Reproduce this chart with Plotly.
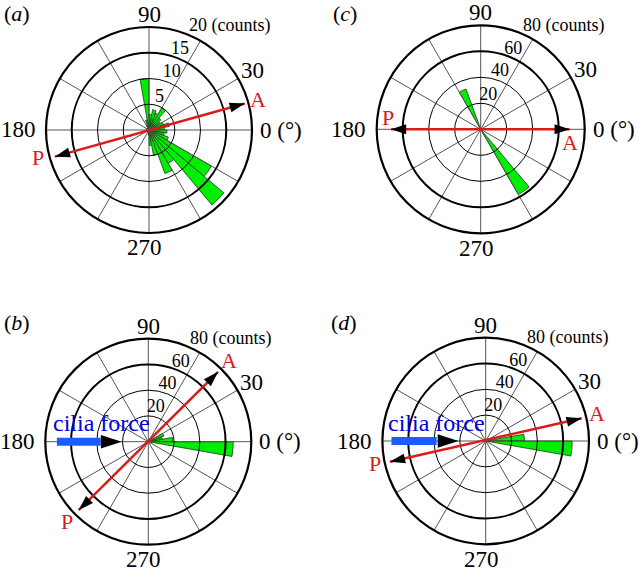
import math
import plotly.graph_objects as go

# ---------------- data ----------------
bin_centers = [5, 15, 25, 35, 45, 55, 65, 75, 85, 95, 105, 115, 125, 135, 145, 155, 165, 175,
               185, 195, 205, 215, 225, 235, 245, 255, 265, 275, 285, 295, 305, 315, 325, 335, 345, 355]
bin_width = 10

counts_a = [3, 4, 3, 2.5, 3, 5, 3.5, 4, 3, 10, 2, 1, 0.5, 0.5, 0.5, 0.5, 0.5, 0.5,
            0.5, 0.5, 0.5, 0.5, 0.5, 0.5, 0.5, 0.5, 1, 3, 5, 9, 7.5, 19, 14, 4, 3, 3.5]
counts_b = [19, 11, 13, 0, 0, 0, 0, 0, 0, 0, 0, 0, 0, 0, 0, 0, 0, 0,
            0, 0, 0, 0, 0, 0, 0, 0, 0, 0, 0, 0, 0, 0, 0, 0, 0, 66]
counts_c = [0, 0, 0, 0, 0, 0, 0, 0, 0, 0, 0, 33, 0, 0, 0, 0, 0, 0,
            0, 0, 0, 0, 0, 0, 0, 0, 0, 0, 0, 0, 58, 0, 0, 0, 0, 0]
counts_d = [30, 0, 0, 0, 0, 0, 0, 0, 0, 0, 0, 0, 0, 0, 0, 0, 0, 0,
            0, 0, 0, 0, 0, 0, 0, 0, 0, 0, 0, 0, 0, 0, 0, 0, 0, 67]

ring_ticks_a = [5, 10, 15, 20]
ring_ticks_bcd = [20, 40, 60, 80]
ring_labels_a = ["5", "10", "15", "20 (counts)"]
ring_labels_bcd = ["20", "40", "60", "80 (counts)"]

spoke_angles = [0, 30, 60, 90, 120, 150, 180, 210, 240, 270, 300, 330]
angle_label_text = ["0 (°)", "30", "90", "180", "270"]
# label placement: (radius as fraction of the outer ring, angle in degrees)
angle_label_pos = [(1.28, 0), (1.16, 29.8), (1.12, 90), (1.27, 180), (1.145, 267.8)]

# A-P axis (theta of A tip, r of A tip, theta of P tip, r of P tip)
ap_a = [15.5, 19.3, 195.8, 19.0]
ap_b = [45.0, 76.7, 224.5, 75.8]
ap_c = [0.0, 68.5, 180.0, 69.0]
ap_d = [13.3, 76.4, 192.2, 75.9]

# cilia force arrow: tail r, head-base r, tip r (all at 180 deg)
cilia_b = [71, 37, 20.6]
cilia_d = [73, 38, 21]

# ---------------- layout helpers ----------------
W, H = 640, 575
FONT = "Liberation Serif, Times New Roman, serif"
GREEN = "#00ee00"
RED = "#dd1a1a"

panels = [
    dict(tag="a", cx=149, cy=130, R=103, counts=counts_a, ticks=ring_ticks_a, labels=ring_labels_a,
         ap=ap_a, cilia=None, lab=(2, 14),
         ring_lab_pos=[(6.6, 72), (12.0, 68.5), (16.7, 68.8), (25.7, 52.4)],
         A_pos=(22.0, 15.4), P_pos=(22.2, 193.7)),
    dict(tag="c", cx=480.7, cy=129.3, R=104, counts=counts_c, ticks=ring_ticks_bcd, labels=ring_labels_bcd,
         ap=ap_c, cilia=None, lab=(331, 14),
         ring_lab_pos=[(27, 77.5), (46.7, 71.5), (66.5, 67.8), (102.3, 51.6)],
         A_pos=(69.5, 351.3), P_pos=(71.8, 173)),
    dict(tag="b", cx=148.3, cy=441.7, R=103, counts=counts_b, ticks=ring_ticks_bcd, labels=ring_labels_bcd,
         ap=ap_b, cilia=cilia_b, lab=(2, 322),
         ring_lab_pos=[(27, 77.5), (46.7, 71.5), (66.5, 67.8), (102.3, 51.6)],
         A_pos=(89, 45.4), P_pos=(88.6, 224.4), cilia_txt=(38.8, 158.5)),
    dict(tag="d", cx=485.7, cy=441, R=103.3, counts=counts_d, ticks=ring_ticks_bcd, labels=ring_labels_bcd,
         ap=ap_d, cilia=cilia_d, lab=(329, 322),
         ring_lab_pos=[(27, 77.5), (46.7, 71.5), (66.5, 67.8), (102.3, 51.6)],
         A_pos=(88.7, 14), P_pos=(87.5, 191.4), cilia_txt=(40.4, 160)),
]


def to_paper(p, r, theta):
    """Position of a label given in the panel's polar units, as paper fractions."""
    rad = p["R"] * r / p["ticks"][-1]
    x = p["cx"] + rad * math.cos(math.radians(theta))
    y = p["cy"] - rad * math.sin(math.radians(theta))
    return x / W, 1 - y / H


def label(x, y, text, size, color="black"):
    return dict(x=x, y=y, xref="paper", yref="paper", xanchor="center", yanchor="middle",
                showarrow=False, text=text, font=dict(size=size, family=FONT, color=color))


fig = go.Figure()
layout = dict(width=W, height=H, margin=dict(l=0, r=0, t=0, b=0), paper_bgcolor="white",
              showlegend=False, font=dict(family=FONT, color="black"))
annotations = []

n = len(panels)
for i, p in enumerate(panels):
    base = "polar" if i == 0 else f"polar{i + 1}"
    grid = f"polar{i + 1 + n}"
    thick = f"polar{i + 1 + 2 * n}"
    rmax = p["ticks"][-1]
    dom = dict(x=[(p["cx"] - p["R"]) / W, (p["cx"] + p["R"]) / W],
               y=[1 - (p["cy"] + p["R"]) / H, 1 - (p["cy"] - p["R"]) / H])
    hidden_ang = dict(direction="counterclockwise", rotation=0, showgrid=False, showline=False,
                      showticklabels=False, ticks="")
    # base polar: bars
    layout[base] = dict(domain=dom, bgcolor="white",
                        radialaxis=dict(range=[0, rmax], showgrid=False, showline=False,
                                        showticklabels=False, ticks=""),
                        angularaxis=hidden_ang)
    # grid overlay: thin rings + spokes + outer circle
    layout[grid] = dict(domain=dom, bgcolor="rgba(0,0,0,0)",
                        radialaxis=dict(range=[0, rmax], tickvals=p["ticks"][:2], showgrid=True,
                                        gridcolor="black", gridwidth=1.2, showline=False,
                                        showticklabels=False, ticks=""),
                        angularaxis=dict(direction="counterclockwise", rotation=0,
                                         tickvals=spoke_angles, showticklabels=False,
                                         showgrid=True, gridcolor="#555555", gridwidth=1,
                                         showline=True, linecolor="black", linewidth=2.2,
                                         ticks=""))
    # thick ring overlay
    layout[thick] = dict(domain=dom, bgcolor="rgba(0,0,0,0)",
                         radialaxis=dict(range=[0, rmax], tickvals=[p["ticks"][2]], showgrid=True,
                                         gridcolor="black", gridwidth=2.2, showline=False,
                                         showticklabels=False, ticks=""),
                         angularaxis=hidden_ang)

    fig.add_trace(go.Barpolar(r=p["counts"], theta=bin_centers, width=[bin_width] * len(bin_centers),
                              subplot=base,
                              marker=dict(color=GREEN, line=dict(color="#1a3a1a", width=0.8))))

    # ring labels (inside the range) live on the grid overlay
    fig.add_trace(go.Scatterpolar(r=[q[0] for q in p["ring_lab_pos"][:3]],
                                  theta=[q[1] for q in p["ring_lab_pos"][:3]],
                                  mode="text", text=p["labels"][:3], subplot=grid, cliponaxis=False,
                                  textfont=dict(size=18, family=FONT, color="black"),
                                  hoverinfo="skip"))
    # outer ring label (outside the range) as annotation
    annotations.append(label(*to_paper(p, *p["ring_lab_pos"][3]), p["labels"][3], 18))

    # angle labels
    for txt, (frac, th) in zip(angle_label_text, angle_label_pos):
        annotations.append(label(*to_paper(p, frac * rmax, th), txt, 23))

    # cilia force arrow
    if p["cilia"] is not None:
        c = p["cilia"]
        fig.add_trace(go.Scatterpolar(r=[c[0], c[1]], theta=[180, 180], mode="lines", subplot=thick,
                                      line=dict(color="#1a5cff", width=8), hoverinfo="skip"))
        fig.add_trace(go.Scatterpolar(r=[c[2]], theta=[180], mode="markers", subplot=thick,
                                      cliponaxis=False,
                                      marker=dict(symbol="arrow", size=22, angle=90, color="black"),
                                      hoverinfo="skip"))
        annotations.append(label(*to_paper(p, *p["cilia_txt"]), "cilia force", 24, "#0000dd"))
    # A-P axis
    thA, rA, thP, rP = p["ap"]
    fig.add_trace(go.Scatterpolar(r=[rP, rA], theta=[thP, thA], mode="lines", subplot=thick,
                                  line=dict(color=RED, width=2.5), hoverinfo="skip"))
    fig.add_trace(go.Scatterpolar(r=[rA, rP], theta=[thA, thP], mode="markers", subplot=thick,
                                  cliponaxis=False,
                                  marker=dict(symbol="arrow", size=16, angle=[90 - thA, 90 - thP],
                                              color="black"),
                                  hoverinfo="skip"))
    annotations.append(label(*to_paper(p, *p["A_pos"]), "A", 22, RED))
    annotations.append(label(*to_paper(p, *p["P_pos"]), "P", 22, RED))

    pl = label(p["lab"][0] / W, 1 - p["lab"][1] / H, f"(<i>{p['tag']}</i>)", 22)
    pl["xanchor"] = "left"
    annotations.append(pl)

layout["annotations"] = annotations
fig.update_layout(**layout)
fig.write_html("out.html", config={"displayModeBar": False},
               post_script="document.body.style.margin='0';document.body.style.overflow='hidden';")
